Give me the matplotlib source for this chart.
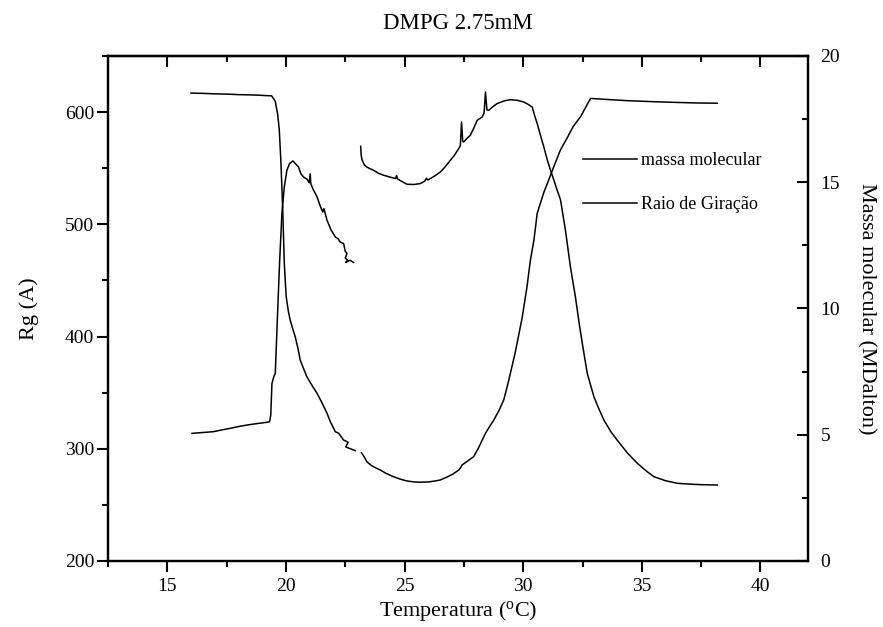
import numpy as np
import matplotlib
matplotlib.use('Agg')
import matplotlib.pyplot as plt
from matplotlib.ticker import MultipleLocator

plt.rcParams['font.family'] = ['Liberation Serif', 'DejaVu Serif']
plt.rcParams['mathtext.fontset'] = 'custom'
plt.rcParams['mathtext.rm'] = 'Liberation Serif'

# massa molecular (MDalton), two runs with a gap near 23 C
t_mm1 = [16.0, 16.5, 17.0, 17.5, 18.0, 18.5, 19.0, 19.4, 19.55, 19.65, 19.72, 19.79,
         19.87, 19.93, 20.01, 20.1, 20.18, 20.3, 20.39, 20.5, 20.6, 20.75, 20.88, 21.1,
         21.31, 21.5, 21.73, 21.87, 22.08, 22.22, 22.43, 22.62, 22.52, 22.7, 22.92]
mm1 = [18.53, 18.52, 18.50, 18.49, 18.47, 18.46, 18.44, 18.42, 18.2, 17.7, 17.07, 15.75,
       13.77, 11.79, 10.47, 9.9, 9.54, 9.15, 8.88, 8.45, 7.96, 7.6, 7.30, 6.95,
       6.64, 6.3, 5.85, 5.52, 5.12, 5.06, 4.79, 4.70, 4.52, 4.45, 4.37]

t_mm2 = [23.18, 23.3, 23.41, 23.6, 23.8, 23.98, 24.2, 24.5, 24.82, 25.1, 25.4, 25.66,
         26.0, 26.3, 26.51, 26.8, 27.05, 27.28, 27.38, 27.42, 27.6, 27.91, 28.1, 28.41,
         28.6, 28.76, 29.0, 29.18, 29.35, 29.5, 29.65, 29.8, 29.95, 30.16, 30.3, 30.45,
         30.59, 30.87, 31.1, 31.29, 31.57, 31.85, 32.1, 32.42, 32.65, 32.84, 33.5, 34.39,
         35.5, 36.5, 37.3, 38.18]
mm2 = [4.29, 4.12, 3.93, 3.78, 3.68, 3.60, 3.48, 3.35, 3.24, 3.17, 3.13, 3.12,
       3.13, 3.17, 3.21, 3.33, 3.45, 3.60, 3.72, 3.80, 3.92, 4.13, 4.45, 5.06,
       5.35, 5.58, 6.0, 6.38, 7.0, 7.6, 8.2, 8.9, 9.61, 10.86, 11.9, 12.7,
       13.77, 14.6, 15.15, 15.62, 16.28, 16.75, 17.2, 17.6, 18.0, 18.32, 18.28, 18.23,
       18.19, 18.16, 18.14, 18.13]

# raio de giracao Rg (A)
t_rg1 = [16.04, 16.5, 16.94, 17.3, 17.65, 18.0, 18.35, 18.8, 19.1, 19.31, 19.36, 19.41,
         19.5, 19.55, 19.62, 19.73, 19.83, 19.93, 20.04, 20.15, 20.29, 20.4, 20.53, 20.63,
         20.74, 20.9, 20.98, 21.02, 21.05, 21.15, 21.31, 21.45, 21.55, 21.6, 21.73, 21.9,
         22.08, 22.2, 22.3, 22.43, 22.5, 22.57, 22.5, 22.6, 22.52, 22.7, 22.85]
rg1 = [313.7, 314.5, 315.2, 316.8, 318.2, 319.8, 321.1, 322.5, 323.3, 324.0, 330.0, 358.2,
       365.0, 367.0, 405.7, 465.0, 509.6, 533.3, 548.2, 554.0, 556.5, 554.0, 551.1, 545.0,
       542.2, 540.0, 537.0, 545.0, 536.0, 531.0, 524.5, 516.0, 511.0, 514.0, 503.7, 495.0,
       488.8, 487.0, 484.0, 482.9, 476.0, 474.0, 470.0, 468.0, 466.0, 468.0, 466.0]

t_rg2 = [23.15, 23.17, 23.2, 23.3, 23.41, 23.55, 23.69, 23.9, 24.12, 24.4, 24.62, 24.66,
         24.7, 24.9, 25.1, 25.4, 25.66, 25.85, 25.92, 25.98, 26.09, 26.3, 26.51, 26.7,
         26.93, 27.1, 27.28, 27.35, 27.4, 27.45, 27.49, 27.65, 27.77, 27.9, 28.06, 28.15,
         28.27, 28.35, 28.41, 28.47, 28.55, 28.7, 28.9, 29.2, 29.46, 29.75, 30.02, 30.2,
         30.38, 30.48, 30.59, 30.73, 30.87, 31.0, 31.15, 31.29, 31.43, 31.57, 31.78, 31.99,
         32.2, 32.35, 32.49, 32.7, 32.98, 33.2, 33.4, 33.7, 33.96, 34.4, 34.81, 35.2,
         35.51, 36.0, 36.5, 37.0, 37.5, 38.18]
rg2 = [569.5, 562.0, 558.0, 553.0, 551.0, 549.5, 548.2, 545.5, 543.7, 542.0, 540.8, 543.5,
       540.5, 538.0, 535.7, 535.5, 536.3, 538.5, 541.0, 539.5, 540.8, 543.5, 546.7, 551.0,
       557.1, 561.5, 567.5, 570.0, 591.2, 574.0, 573.4, 577.0, 579.3, 585.0, 592.7, 594.0,
       595.6, 599.0, 617.9, 602.0, 601.6, 604.5, 607.6, 610.0, 611.1, 610.5, 609.0, 607.0,
       604.5, 597.0, 589.8, 579.0, 568.9, 558.5, 548.2, 539.5, 530.4, 522.0, 494.7, 462.0,
       435.3, 413.0, 393.9, 367.1, 346.3, 335.0, 325.6, 315.0, 307.7, 296.0, 287.0, 280.0,
       275.1, 271.5, 269.2, 268.5, 268.0, 267.7]

fig = plt.figure(figsize=(8.83, 6.27), dpi=100)
ax = fig.add_axes([0.1223, 0.1053, 0.7927, 0.8054])
ax2 = ax.twinx()

ax.plot(t_rg1, rg1, color='black', lw=1.1)
l_rg, = ax.plot(t_rg2, rg2, color='black', lw=1.1)
ax2.plot(t_mm1, mm1, color='black', lw=1.1)
l_mm, = ax2.plot(t_mm2, mm2, color='black', lw=1.1)

ax.set_xlim(12.5, 42)
ax.set_ylim(200, 650)
ax2.set_ylim(0, 20)

ax.xaxis.set_major_locator(MultipleLocator(5))
ax.xaxis.set_minor_locator(MultipleLocator(2.5))
ax.yaxis.set_major_locator(MultipleLocator(100))
ax.yaxis.set_minor_locator(MultipleLocator(50))
ax2.yaxis.set_major_locator(MultipleLocator(5))
ax2.yaxis.set_minor_locator(MultipleLocator(2.5))

for a in (ax, ax2):
    for s in a.spines.values():
        s.set_linewidth(1.6)

ax.tick_params(axis='both', which='major', direction='out', length=8, width=1.5,
               labelsize=14, pad=2)
ax.tick_params(axis='both', which='minor', direction='out', length=4.5, width=1.5)
ax.tick_params(axis='x', which='major', pad=4.5)
ax.tick_params(axis='y', right=False, which='both')
ax2.tick_params(axis='y', which='major', direction='in', length=8, width=1.5,
                labelsize=14, pad=9)
ax2.tick_params(axis='y', which='minor', direction='in', length=4.5, width=1.5)

top = ax.secondary_xaxis('top')
top.xaxis.set_major_locator(MultipleLocator(5))
top.xaxis.set_minor_locator(MultipleLocator(2.5))
top.tick_params(which='major', direction='in', length=8, width=1.5, labeltop=False)
top.tick_params(which='minor', direction='in', length=4.5, width=1.5)
top.spines['top'].set_linewidth(1.6)

ax.set_xlabel('Temperatura ($\\mathregular{^{o}}$C)', fontsize=16)
ax.xaxis.set_label_coords(0.5, -0.075)
ax.set_ylabel('Rg (A)', fontsize=16)
ax.yaxis.set_label_coords(-0.098, 0.5)
ax2.set_ylabel('Massa molecular (MDalton)', fontsize=16, rotation=270, va='bottom')
ax2.yaxis.set_label_coords(1.07, 0.5)

fig.text(0.5187, 0.962, 'DMPG 2.75mM', ha='center', va='center', fontsize=16.5)

ax2.legend([l_mm, l_rg], ['massa molecular', 'Raio de Giração'], frameon=False,
           loc='upper left', bbox_to_anchor=(0.679, 0.81), borderpad=0, borderaxespad=0,
           handlelength=3.0, handletextpad=0.2, labelspacing=1.5, fontsize=13)

fig.savefig('out.png', dpi=100)
